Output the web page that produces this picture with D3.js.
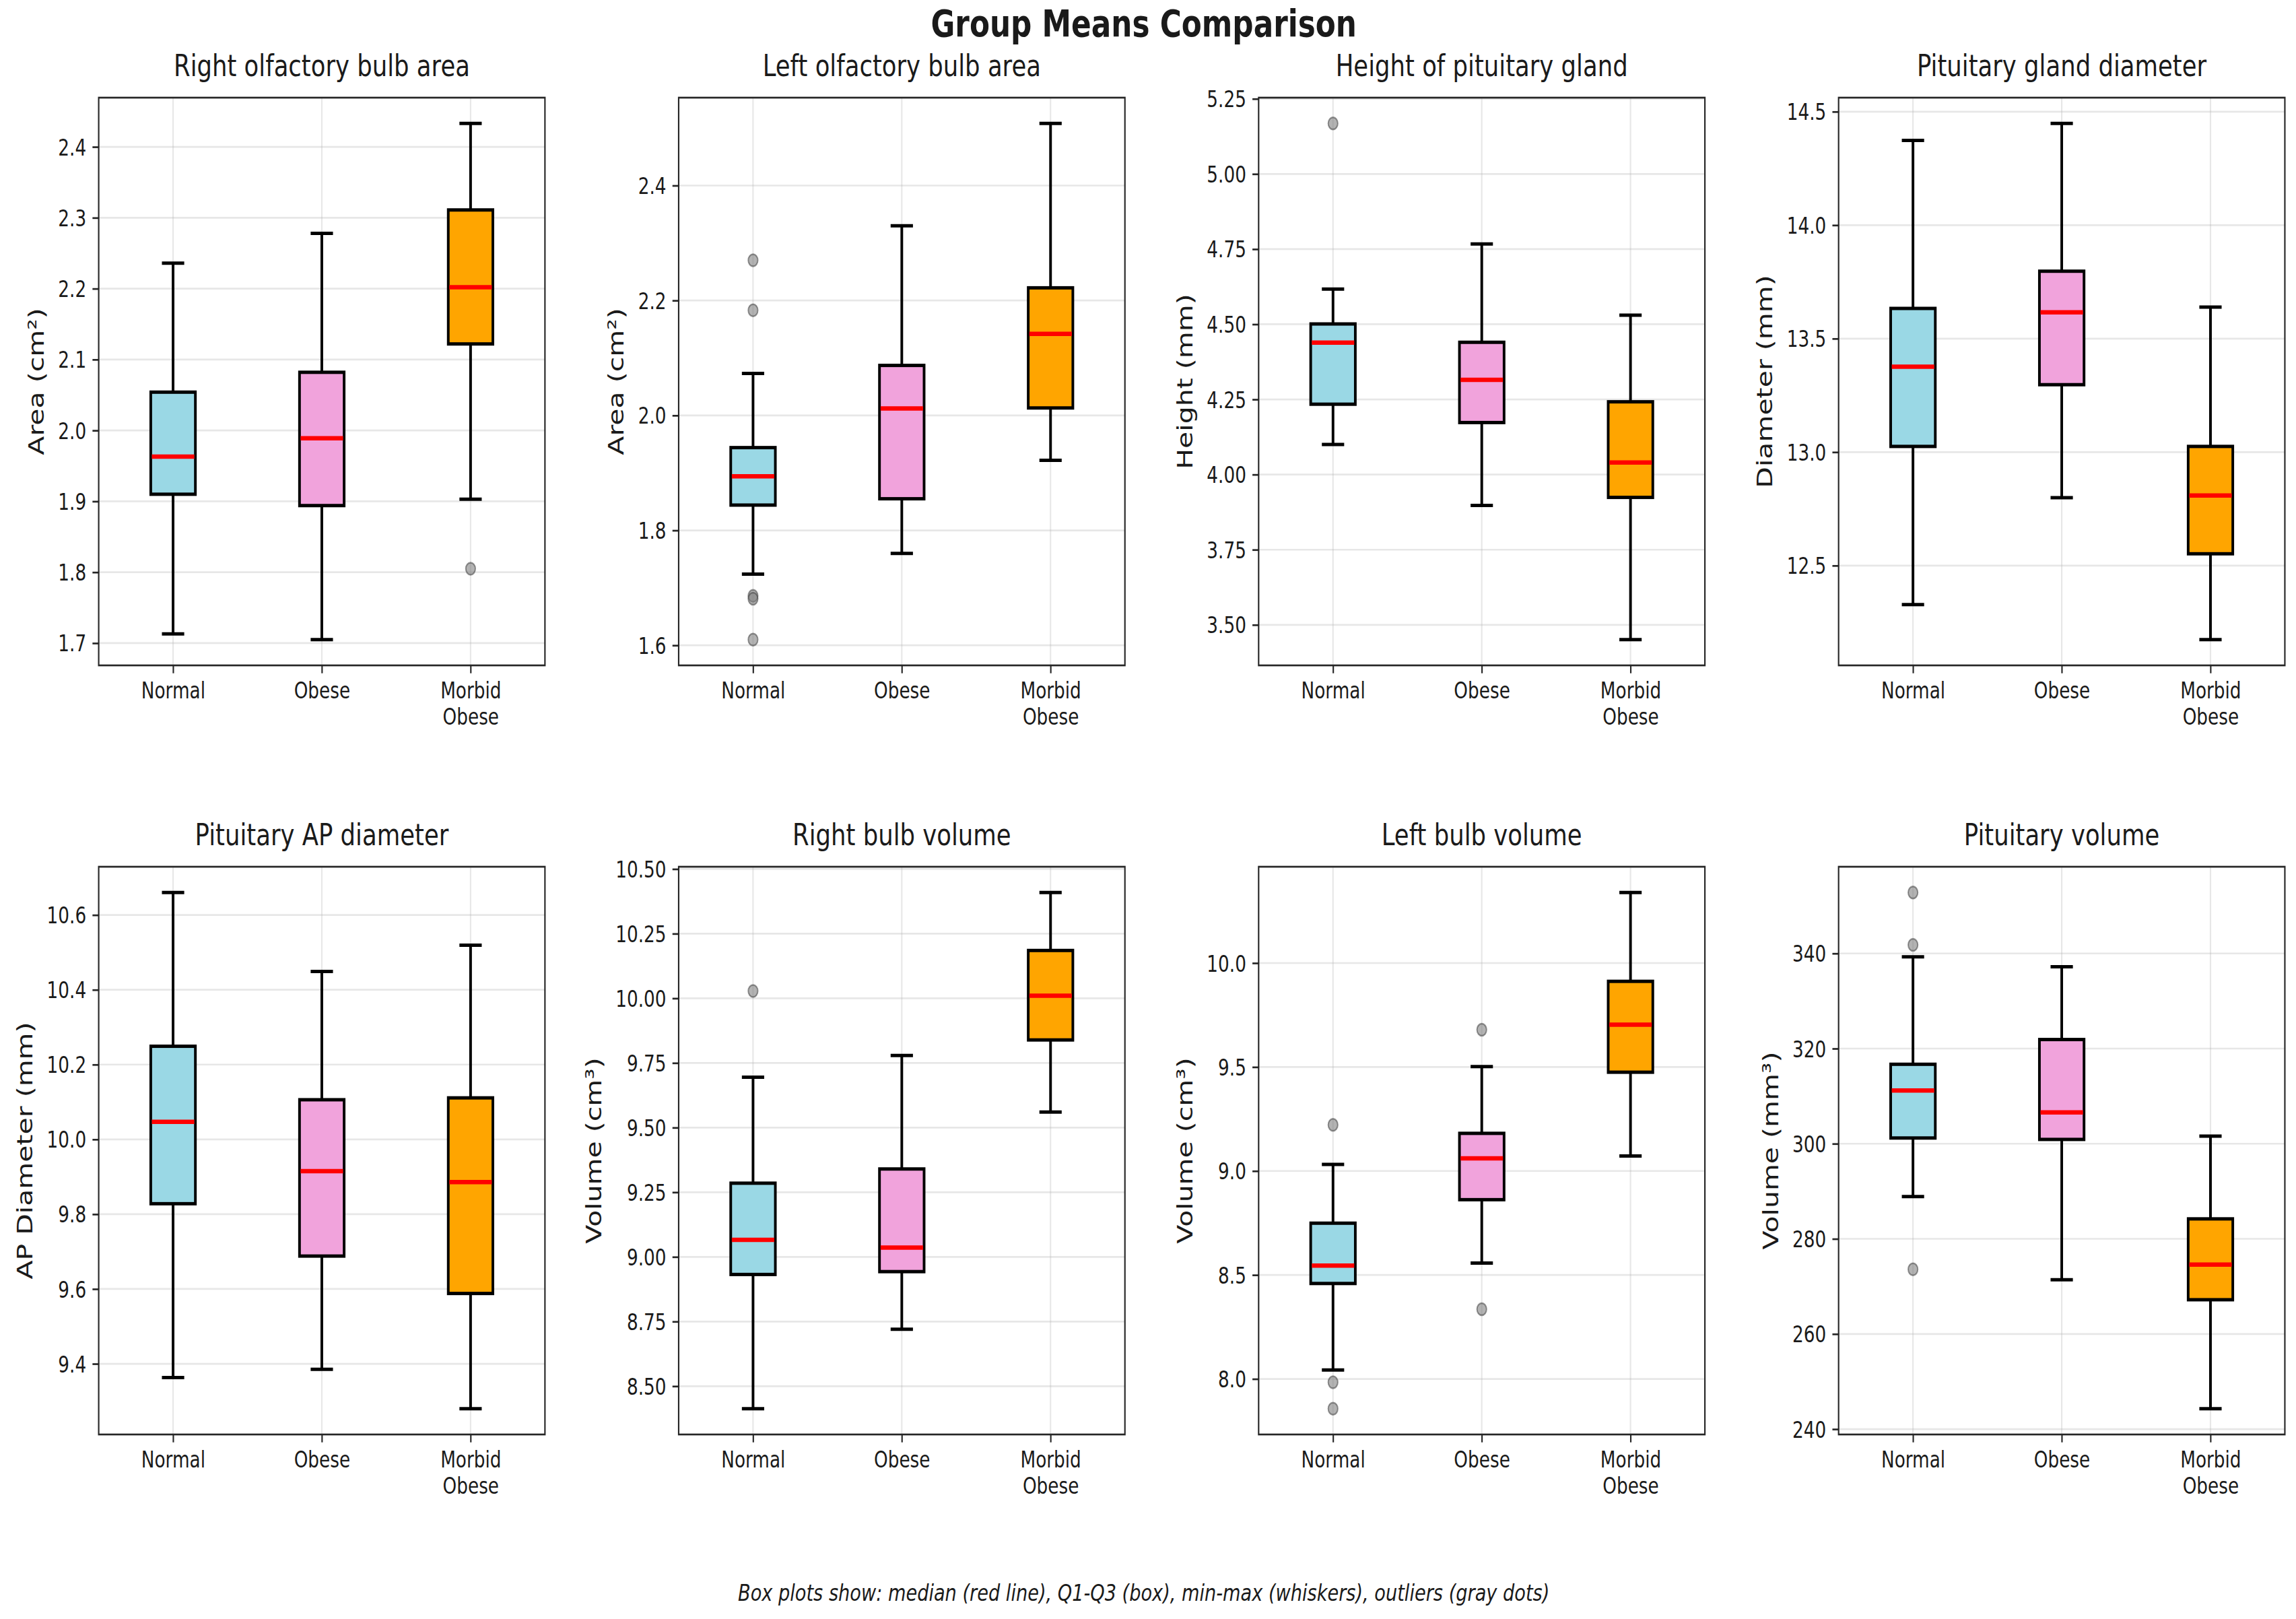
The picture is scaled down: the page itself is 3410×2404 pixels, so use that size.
<!DOCTYPE html>
<html>
<head>
<meta charset="utf-8">
<script src="https://cdn.jsdelivr.net/npm/d3@7"></script>
<style>
  html, body { margin: 0; padding: 0; background: #fff; }
  text { font-family: "DejaVu Sans", sans-serif; fill: #1a1a1a; }
</style>
</head>
<body>
<script>
// figure was rendered wide and squeezed horizontally, so we draw in a wider
// logical space and let the viewBox squash it the same way
const figW = 3410, figH = 2404;
const W = 4327, H = 2404;

const panelTitles = [
  "Right olfactory bulb area", "Left olfactory bulb area", "Height of pituitary gland", "Pituitary gland diameter",
  "Pituitary AP diameter", "Right bulb volume", "Left bulb volume", "Pituitary volume"
];
const yLabels = [
  "Area (cm²)", "Area (cm²)", "Height (mm)", "Diameter (mm)",
  "AP Diameter (mm)", "Volume (cm³)", "Volume (cm³)", "Volume (mm³)"
];
const groups = ["Normal", "Obese", "Morbid\nObese"];
const groupColors = ["#9ad8e5", "#f1a3dc", "#ffa500"];

// [min whisker, Q1, median, Q3, max whisker] per panel
const normalBoxes = [
  [1.713, 1.910, 1.963, 2.054, 2.236],
  [1.724, 1.844, 1.894, 1.944, 2.073],
  [4.100, 4.234, 4.439, 4.501, 4.617],
  [12.328, 13.025, 13.376, 13.633, 14.373],
  [9.363, 9.828, 10.047, 10.249, 10.660],
  [8.413, 8.932, 9.066, 9.285, 9.695],
  [8.043, 8.459, 8.545, 8.749, 9.032],
  [288.9, 301.2, 311.2, 316.7, 339.3]
];
const obeseBoxes = [
  [1.705, 1.894, 1.989, 2.082, 2.278],
  [1.760, 1.855, 2.012, 2.087, 2.330],
  [3.897, 4.173, 4.315, 4.440, 4.767],
  [12.799, 13.297, 13.616, 13.797, 14.448],
  [9.385, 9.688, 9.915, 10.106, 10.449],
  [8.720, 8.943, 9.036, 9.340, 9.779],
  [8.557, 8.862, 9.061, 9.181, 9.502],
  [271.4, 300.9, 306.6, 321.9, 337.2]
];
const morbidBoxes = [
  [1.903, 2.122, 2.202, 2.311, 2.433],
  [1.922, 2.013, 2.142, 2.222, 2.508],
  [3.451, 3.924, 4.040, 4.242, 4.530],
  [12.174, 12.552, 12.809, 13.025, 13.639],
  [9.280, 9.588, 9.886, 10.111, 10.519],
  [9.560, 9.839, 10.010, 10.185, 10.409],
  [9.072, 9.475, 9.704, 9.912, 10.339],
  [244.3, 267.2, 274.6, 284.2, 301.6]
];

const normalOutliers = [[], [2.270, 2.183, 1.686, 1.681, 1.610], [5.168], [], [], [10.028], [9.222, 7.984, 7.857], [352.8, 341.8, 273.6]];
const obeseOutliers = [[], [], [], [], [], [], [9.679, 8.335], []];
const morbidOutliers = [[1.805], [], [], [], [], [], [], []];

const yTickLabels = [
  ["1.7", "1.8", "1.9", "2.0", "2.1", "2.2", "2.3", "2.4"],
  ["1.6", "1.8", "2.0", "2.2", "2.4"],
  ["3.50", "3.75", "4.00", "4.25", "4.50", "4.75", "5.00", "5.25"],
  ["12.5", "13.0", "13.5", "14.0", "14.5"],
  ["9.4", "9.6", "9.8", "10.0", "10.2", "10.4", "10.6"],
  ["8.50", "8.75", "9.00", "9.25", "9.50", "9.75", "10.00", "10.25", "10.50"],
  ["8.0", "8.5", "9.0", "9.5", "10.0"],
  ["240", "260", "280", "300", "320", "340"]
];

const suptitle = "Group Means Comparison";
const footnote = "Box plots show: median (red line), Q1-Q3 (box), min-max (whiskers), outliers (gray dots)";

// layout (logical units)
const left0 = 186, colStep = 1093, axW = 841, axH = 843;
const rowTops = [145, 1287];
const tickLen = 11.7, tickPad = 11.7;
const fsTick = 33.4, fsTitle = 45, fsYLabel = 41, fsSup = 55.5, fsNote = 34.5;

const svg = d3.select("body").append("svg")
  .attr("width", figW)
  .attr("height", figH)
  .attr("viewBox", `0 0 ${W} ${H}`)
  .attr("preserveAspectRatio", "none");

svg.append("rect").attr("width", W).attr("height", H).attr("fill", "#fff");

svg.append("text")
  .attr("x", W / 2 - 8)
  .attr("y", 54)
  .attr("text-anchor", "middle")
  .style("font-size", fsSup + "px")
  .style("font-weight", "bold")
  .text(suptitle);

svg.append("text")
  .attr("x", W / 2 - 8)
  .attr("y", 2377)
  .attr("text-anchor", "middle")
  .style("font-size", fsNote + "px")
  .style("font-style", "italic")
  .text(footnote);

panelTitles.forEach((title, i) => {
  const col = i % 4, row = Math.floor(i / 4);
  const g = svg.append("g")
    .attr("transform", `translate(${left0 + col * colStep},${rowTops[row]})`);

  const boxes = [normalBoxes[i], obeseBoxes[i], morbidBoxes[i]];
  const outliers = [normalOutliers[i], obeseOutliers[i], morbidOutliers[i]];

  // matplotlib-style autoscale: data extent plus 5% margin
  const all = boxes.flat().concat(outliers.flat());
  const [lo, hi] = d3.extent(all);
  const pad = (hi - lo) * 0.05;

  const y = d3.scaleLinear().domain([lo - pad, hi + pad]).range([axH, 0]);
  const x = d3.scalePoint().domain(groups).range([0, axW]).padding(0.5);
  const step = x.step();
  const boxW = step * 0.3, capW = step * 0.15;

  const ticks = yTickLabels[i].map(Number);

  // grid
  g.append("g").selectAll("line.gy").data(ticks).join("line")
    .attr("x1", 0).attr("x2", axW)
    .attr("y1", d => y(d)).attr("y2", d => y(d))
    .attr("stroke", "#b0b0b0").attr("stroke-opacity", 0.3).attr("stroke-width", 2.7);
  g.append("g").selectAll("line.gx").data(groups).join("line")
    .attr("x1", d => x(d)).attr("x2", d => x(d))
    .attr("y1", 0).attr("y2", axH)
    .attr("stroke", "#b0b0b0").attr("stroke-opacity", 0.3).attr("stroke-width", 2.7);

  // boxes
  const bg = g.append("g").selectAll("g").data(groups).join("g");
  bg.each(function (name, k) {
    const s = boxes[k];
    const cx = x(name);
    const sel = d3.select(this);
    sel.append("line")
      .attr("x1", cx).attr("x2", cx).attr("y1", y(s[0])).attr("y2", y(s[1]))
      .attr("stroke", "#000").attr("stroke-width", 5);
    sel.append("line")
      .attr("x1", cx).attr("x2", cx).attr("y1", y(s[3])).attr("y2", y(s[4]))
      .attr("stroke", "#000").attr("stroke-width", 5);
    [s[0], s[4]].forEach(v => {
      sel.append("line")
        .attr("x1", cx - capW / 2).attr("x2", cx + capW / 2)
        .attr("y1", y(v)).attr("y2", y(v))
        .attr("stroke", "#000").attr("stroke-width", 5);
    });
    sel.append("rect")
      .attr("x", cx - boxW / 2).attr("width", boxW)
      .attr("y", y(s[3])).attr("height", y(s[1]) - y(s[3]))
      .attr("fill", groupColors[k])
      .attr("stroke", "#000").attr("stroke-width", 5);
    sel.append("line")
      .attr("x1", cx - boxW / 2 + 2).attr("x2", cx + boxW / 2 - 2)
      .attr("y1", y(s[2])).attr("y2", y(s[2]))
      .attr("stroke", "#ff0000").attr("stroke-width", 6.5);
    sel.selectAll("circle").data(outliers[k]).join("circle")
      .attr("cx", cx).attr("cy", d => y(d)).attr("r", 9)
      .attr("fill", "#808080").attr("fill-opacity", 0.6)
      .attr("stroke", "#333").attr("stroke-opacity", 0.5).attr("stroke-width", 2.5);
  });

  // spines
  g.append("rect")
    .attr("width", axW).attr("height", axH)
    .attr("fill", "none").attr("stroke", "#262626").attr("stroke-width", 2.7);

  // y axis
  const ya = g.append("g").call(
    d3.axisLeft(y).tickValues(ticks).tickFormat((d, j) => yTickLabels[i][j])
      .tickSize(tickLen).tickPadding(tickPad)
  );
  ya.select(".domain").remove();
  ya.selectAll(".tick line").attr("stroke", "#262626").attr("stroke-width", 2.7);
  ya.selectAll(".tick text")
    .attr("fill", "#1a1a1a")
    .style("font-size", fsTick + "px")
    .style("font-family", "DejaVu Sans")
    .attr("dy", "0.36em");

  // x axis
  const xa = g.append("g").attr("transform", `translate(0,${axH})`).call(
    d3.axisBottom(x).tickSize(tickLen).tickPadding(tickPad).tickFormat(() => "")
  );
  xa.select(".domain").remove();
  xa.selectAll(".tick line").attr("stroke", "#262626").attr("stroke-width", 2.7);
  xa.selectAll(".tick text").each(function (d) {
    const t = d3.select(this)
      .attr("fill", "#1a1a1a")
      .attr("y", tickLen + tickPad)
      .attr("dy", null)
      .style("font-size", fsTick + "px")
      .style("font-family", "DejaVu Sans");
    d.split("\n").forEach((line, li) => {
      t.append("tspan").attr("x", 0).attr("dy", li === 0 ? "0.77em" : "1.15em").text(line);
    });
  });

  // y label placed left of the widest tick label
  let maxW = 0;
  ya.selectAll(".tick text").each(function () {
    maxW = Math.max(maxW, this.getComputedTextLength());
  });
  const labX = -(tickLen + tickPad + maxW + 15 + fsYLabel * 0.3);
  g.append("text")
    .attr("transform", `translate(${labX},${axH / 2}) rotate(-90)`)
    .attr("text-anchor", "middle")
    .style("font-size", fsYLabel + "px")
    .text(yLabels[i]);

  // panel title
  g.append("text")
    .attr("x", axW / 2)
    .attr("y", -32)
    .attr("text-anchor", "middle")
    .style("font-size", fsTitle + "px")
    .text(title);
});
</script>
</body>
</html>
